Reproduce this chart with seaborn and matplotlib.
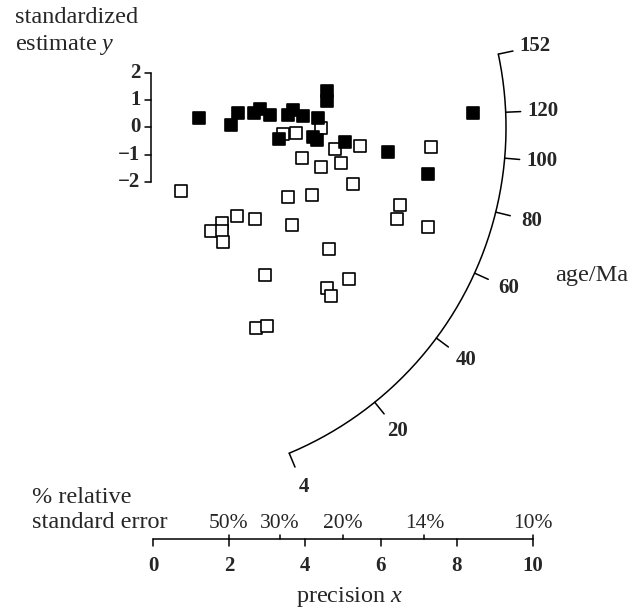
import numpy as np
import matplotlib
matplotlib.use("Agg")
import matplotlib.pyplot as plt
import seaborn as sns

# points: precision x, standardized estimate y
filled_x = [1.22, 2.05, 2.24, 2.66, 2.82, 3.08, 3.54, 3.68, 3.96, 4.35,
            4.57, 4.57, 3.32, 4.31, 4.22, 5.05, 6.19, 7.24, 8.43]
filled_y = [0.36, 0.09, 0.52, 0.52, 0.68, 0.46, 0.46, 0.64, 0.43, 0.36,
            1.35, 0.99, -0.43, -0.46, -0.35, -0.54, -0.89, -1.72, 0.52]

open_x = [3.41, 3.76, 4.42, 4.80, 5.46, 3.91, 4.41, 4.96, 5.26, 3.56,
          4.18, 6.50, 7.31, 0.74, 2.20, 2.69, 1.81, 1.53, 1.82, 1.83,
          3.66, 6.41, 7.24, 4.62, 2.95, 5.17, 4.57, 4.68, 2.70, 3.01]
open_y = [-0.25, -0.21, -0.03, -0.79, -0.69, -1.13, -1.44, -1.29, -2.08, -2.54,
          -2.48, -2.85, -0.73, -2.32, -3.24, -3.36, -3.50, -3.81, -3.81, -4.20,
          -3.58, -3.38, -3.67, -4.46, -5.42, -5.58, -5.91, -6.19, -7.36, -7.30]

# scales
age_ticks = [4, 20, 40, 60, 80, 100, 120, 152]
y_ticks = [2, 1, 0, -1, -2]
x_ticks = [0, 2, 4, 6, 8, 10]
rse_labels = ["50%", "30%", "20%", "14%", "10%"]
rse_values = [0.50, 0.30, 0.20, 0.14, 0.10]

z0 = 4.727          # log of central age
arc_a = 9.29        # arc half-width in x units
arc_b = 12.98       # arc half-height in y units

sns.set_style("white")
plt.rcParams['font.family'] = ['Liberation Serif', 'DejaVu Serif']
plt.rcParams['mathtext.fontset'] = 'custom'
plt.rcParams['mathtext.rm'] = 'Liberation Serif'
plt.rcParams['mathtext.it'] = 'Liberation Serif:italic'

fig = plt.figure(figsize=(6.33, 6.12), dpi=100)
ax = fig.add_axes([0, 0, 1, 1])
ax.set_xlim(-153 / 38, (633 - 153) / 38)
ax.set_ylim((127.5 - 612) / 27.2, 127.5 / 27.2)
ax.axis('off')

txt = dict(fontsize=17.5)
num = dict(fontsize=15, fontweight='bold')
lw = 1.1

# points
sns.scatterplot(x=open_x, y=open_y, marker='s', s=82, color='white',
                edgecolor='black', linewidth=1.2, ax=ax, zorder=3)
sns.scatterplot(x=filled_x, y=filled_y, marker='s', s=82, color='black',
                edgecolor='black', linewidth=1.2, ax=ax, zorder=4)

# y scale bar
yx = -0.05
ax.plot([yx, yx], [min(y_ticks), max(y_ticks)], color='black', lw=lw)
for v in y_ticks:
    ax.plot([yx - 0.17, yx], [v, v], color='black', lw=lw)
    lab = str(v).replace('-', '\u2212')
    ax.text(-0.33, v, lab, ha='right', va='center', **num)
ax.text(-3.62, 4.03, 'standardized', ha='left', va='center', **txt)
ax.text(-3.62, 3.02, 'estimate $y$', ha='left', va='center', **txt)

# arc of ages
def arc_pt(t, scale=1.0):
    phi = np.arctan((np.log(t) - z0) * arc_a / arc_b)
    return arc_a * np.cos(phi) * scale, arc_b * np.sin(phi) * scale

phis = np.linspace(np.arctan((np.log(min(age_ticks)) - z0) * arc_a / arc_b),
                   np.arctan((np.log(max(age_ticks)) - z0) * arc_a / arc_b), 200)
ax.plot(arc_a * np.cos(phis), arc_b * np.sin(phis), color='black', lw=lw)
for t in age_ticks:
    x0, y0 = arc_pt(t)
    x1, y1 = arc_pt(t, 1 + 15 / 353)
    ax.plot([x0, x1], [y0, y1], color='black', lw=lw)
    xl, yl = arc_pt(t, 390 / 353)
    ax.text(xl, yl, str(t), ha='center', va='center', **num)
ax.text((592 - 153) / 38, (127.5 - 276) / 27.2, 'age/Ma', ha='center', va='center', **txt)

# x axis with relative standard error
xa = (127.5 - 539) / 27.2
ax.plot([0, 10], [xa, xa], color='black', lw=lw)
for v in x_ticks:
    ax.plot([v, v], [xa, xa - 0.27], color='black', lw=lw)
    ax.text(v, xa - 0.62, str(v), ha='center', va='top', **num)
for lab, r in zip(rse_labels, rse_values):
    ax.plot([1 / r, 1 / r], [xa, xa + 0.16], color='black', lw=lw)
    ax.text(1 / r, (127.5 - 528) / 27.2, lab, ha='center', va='baseline', fontsize=15.5)
ax.text(-3.18, (127.5 - 503) / 27.2, '% relative', ha='left', va='baseline', **txt)
ax.text(-3.18, (127.5 - 528) / 27.2, 'standard error', ha='left', va='baseline', **txt)
ax.text(5.18, (127.5 - 597) / 27.2, 'precision $x$', ha='center', va='center', **txt)

fig.savefig('out.png', dpi=100)
